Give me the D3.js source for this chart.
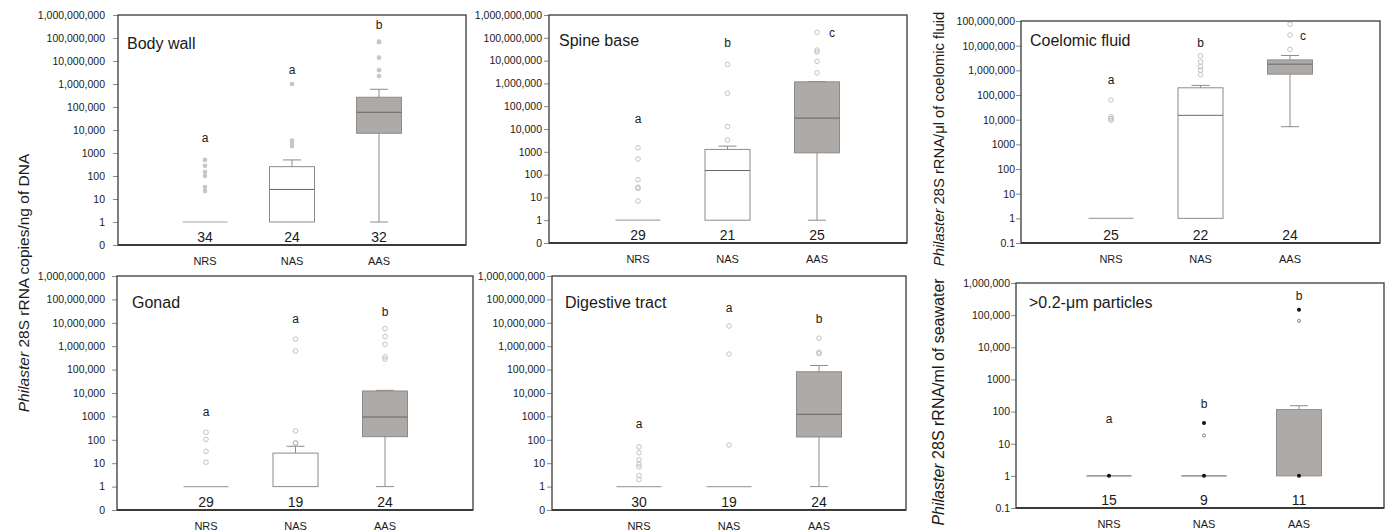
<!DOCTYPE html>
<html>
<head>
<meta charset="utf-8">
<script src="https://cdn.jsdelivr.net/npm/d3@7"></script>
<style>
body { margin: 0; background: #fff; }
text { font-family: "Liberation Sans", Arial, sans-serif; fill: #1a1a1a; }
</style>
</head>
<body>
<script>
var groups = ["NRS", "NAS", "AAS"];

// box stats per group: [low whisker, q1, median, q3, high whisker]
var bodyWallStats = [[1, 1, 1, 1, 1], [1, 1, 26, 255, 500], [1, 7200, 59000, 265000, 590000]];
var bodyWallOut = [[500, 280, 150, 100, 33, 22], [1e6, 3500, 3000, 2200, 2000], [7e7, 6.5e7, 1.4e7, 4e6, 2.2e6]];
var bodyWallN = [34, 24, 32];
var bodyWallLetters = ["a", "a", "b"];
var bodyWallLetterAt = [4500, 4e6, 3.7e8];

var spineStats = [[1, 1, 1, 1, 1], [1, 1, 151, 1270, 1770], [1, 900, 30000, 1.17e6, 1.2e6]];
var spineOut = [[1500, 480, 60, 28, 25, 7], [6.8e6, 3.7e5, 12900, 3240], [1.74e8, 2.9e7, 2.4e7, 9.3e6, 2.9e6]];
var spineN = [29, 21, 25];
var spineLetters = ["a", "b", "c"];
var spineLetterAt = [29000, 6.3e7, 1.74e8];

var coelomicStats = [[1, 1, 1, 1, 1], [1, 1, 15000, 1.96e5, 2.45e5], [5200, 7e5, 1.78e6, 2.65e6, 4e6]];
var coelomicOut = [[62000, 13000, 11000, 9500], [3.9e6, 2.2e6, 1.4e6, 1.02e6, 6.6e5], [7.4e7, 2.7e7, 7e6]];
var coelomicN = [25, 22, 24];
var coelomicLetters = ["a", "b", "c"];
var coelomicLetterAt = [4.3e5, 1.3e7, 2.4e7];

var gonadStats = [[1, 1, 1, 1, 1], [1, 1, 1, 27, 53], [1, 136, 940, 12200, 13000]];
var gonadOut = [[210, 105, 32, 11], [2e6, 6.2e5, 240, 75, 70], [5.6e6, 2.6e6, 1.2e6, 3.5e5, 2.8e5]];
var gonadN = [29, 19, 24];
var gonadLetters = ["a", "a", "b"];
var gonadLetterAt = [1500, 1.55e7, 3e7];

var digestiveStats = [[1, 1, 1, 1, 1], [1, 1, 1, 1, 1], [1, 132, 1230, 81000, 1.5e5]];
var digestiveOut = [[50, 28, 14, 9, 7, 3, 2], [7.3e6, 4.6e5, 60], [2.2e6, 5.6e5, 4.8e5]];
var digestiveN = [30, 19, 24];
var digestiveLetters = ["a", "a", "b"];
var digestiveLetterAt = [500, 4.4e7, 1.5e7];

var particleStats = [[1, 1, 1, 1, 1], [1, 1, 1, 1, 1], [1, 1, 1, 115, 152]];
var particleOut = [[], [18], [66000]];
var particleExtreme = [[], [44], [1.48e5]];
var particleN = [15, 9, 11];
var particleLetters = ["a", "b", "b"];
var particleLetterAt = [59, 172, 4e5];

var tickValues9 = [0.1, 1, 10, 100, 1000, 1e4, 1e5, 1e6, 1e7, 1e8, 1e9];
var tickLabels9 = ["0", "1", "10", "100", "1000", "10,000", "100,000", "1,000,000", "10,000,000", "100,000,000", "1,000,000,000"];
var tickValues8 = [0.1, 1, 10, 100, 1000, 1e4, 1e5, 1e6, 1e7, 1e8];
var tickLabels8 = ["0.1", "1", "10", "100", "1000", "10,000", "100,000", "1,000,000", "10,000,000", "100,000,000"];
var tickValues6 = [0.1, 1, 10, 100, 1000, 1e4, 1e5, 1e6];
var tickLabels6 = ["0.1", "1", "10", "100", "1000", "10,000", "100,000", "1,000,000"];

var panels = [
  {title: "Body wall", stats: bodyWallStats, out: bodyWallOut, n: bodyWallN, letters: bodyWallLetters, letterAt: bodyWallLetterAt,
   ticks: tickValues9, labels: tickLabels9, filledOut: true,
   x0: 118, x1: 466, y0: 15, y1: 245, pad: 8, xr: [205, 379], tx: 9, ty: 34, letterDx: [0, 0, 0]},
  {title: "Spine base", stats: spineStats, out: spineOut, n: spineN, letters: spineLetters, letterAt: spineLetterAt,
   ticks: tickValues9, labels: tickLabels9,
   x0: 549, x1: 907, y0: 15, y1: 243, pad: 2, xr: [638, 817], tx: 10, ty: 31, letterDx: [0, 0, 15]},
  {title: "Coelomic fluid", stats: coelomicStats, out: coelomicOut, n: coelomicN, letters: coelomicLetters, letterAt: coelomicLetterAt,
   ticks: tickValues8, labels: tickLabels8,
   x0: 1021, x1: 1380, y0: 21, y1: 243, pad: 1, xr: [1111, 1290], tx: 9, ty: 25, letterDx: [0, 0, 13]},
  {title: "Gonad", stats: gonadStats, out: gonadOut, n: gonadN, letters: gonadLetters, letterAt: gonadLetterAt,
   ticks: tickValues9, labels: tickLabels9,
   x0: 117, x1: 473, y0: 276, y1: 510, pad: 7, xr: [206, 385], tx: 15, ty: 32, letterDx: [0, 0, 0]},
  {title: "Digestive tract", stats: digestiveStats, out: digestiveOut, n: digestiveN, letters: digestiveLetters, letterAt: digestiveLetterAt,
   ticks: tickValues9, labels: tickLabels9,
   x0: 552, x1: 906, y0: 276, y1: 510, pad: 2, xr: [639, 819], tx: 13, ty: 32, letterDx: [0, 0, 0]},
  {title: ">0.2-\u03bcm particles", stats: particleStats, out: particleOut, extreme: particleExtreme, n: particleN, letters: particleLetters, letterAt: particleLetterAt,
   ticks: tickValues6, labels: tickLabels6, medianDot: true,
   x0: 1016, x1: 1384, y0: 283, y1: 508, pad: 1, xr: [1109, 1299], tx: 13, ty: 25, letterDx: [0, 0, 0]}
];

var boxW = 45, capW = 18;

var svg = d3.select("body").append("svg")
  .attr("width", 1399)
  .attr("height", 530);

var drawPanel = function(p) {
  var y = d3.scaleLog()
    .domain([p.ticks[0], p.ticks[p.ticks.length - 1]])
    .range([p.y1, p.y0]);
  var x = d3.scalePoint()
    .domain(groups)
    .range(p.xr);

  var g = svg.append("g");

  var axis = d3.axisLeft(y)
    .tickValues(p.ticks)
    .tickFormat(function(d, i) { return p.labels[i]; })
    .tickSize(5)
    .tickPadding(p.pad);

  var ax = g.append("g")
    .attr("transform", "translate(" + p.x0 + ",0)")
    .call(axis);
  ax.select(".domain").remove();
  ax.selectAll(".tick line").attr("stroke", "#8a8a8a");
  ax.selectAll(".tick text")
    .attr("font-size", 10.5)
    .attr("font-family", "'Liberation Sans', Arial, sans-serif")
    .attr("fill", "#1a1a1a");

  var grp = g.selectAll(".grp")
    .data(groups)
    .enter()
    .append("g")
    .attr("class", "grp");

  grp.each(function(name, i) {
    var s = p.stats[i];
    var cx = x(name);
    var el = d3.select(this);
    var lineColor = "#8c8c8c";

    if (s[3] > s[1]) {
      // whiskers
      if (s[4] > s[3]) {
        el.append("line").attr("x1", cx).attr("x2", cx).attr("y1", y(s[3])).attr("y2", y(s[4])).attr("stroke", lineColor);
        el.append("line").attr("x1", cx - capW / 2).attr("x2", cx + capW / 2).attr("y1", y(s[4])).attr("y2", y(s[4])).attr("stroke", lineColor);
      }
      if (s[0] < s[1]) {
        el.append("line").attr("x1", cx).attr("x2", cx).attr("y1", y(s[1])).attr("y2", y(s[0])).attr("stroke", lineColor);
        el.append("line").attr("x1", cx - capW / 2).attr("x2", cx + capW / 2).attr("y1", y(s[0])).attr("y2", y(s[0])).attr("stroke", lineColor);
      }
      el.append("rect")
        .attr("x", cx - boxW / 2)
        .attr("y", y(s[3]))
        .attr("width", boxW)
        .attr("height", y(s[1]) - y(s[3]))
        .attr("fill", name == "AAS" ? "#aeaaa7" : "#fff")
        .attr("stroke", lineColor);
      if (s[2] > s[1]) {
        el.append("line").attr("x1", cx - boxW / 2).attr("x2", cx + boxW / 2).attr("y1", y(s[2])).attr("y2", y(s[2])).attr("stroke", "#666");
      }
    } else {
      el.append("line").attr("x1", cx - boxW / 2).attr("x2", cx + boxW / 2).attr("y1", y(s[2])).attr("y2", y(s[2])).attr("stroke", p.medianDot ? "#777" : "#aaa79c").attr("stroke-width", 1.2);
    }

    el.selectAll(".out")
      .data(p.out[i])
      .enter()
      .append("circle")
      .attr("class", "out")
      .attr("cx", cx)
      .attr("cy", function(d) { return y(d); })
      .attr("r", p.medianDot ? 1.5 : 2.3)
      .attr("fill", p.filledOut ? "#c6c6c6" : "none")
      .attr("stroke", p.filledOut ? "none" : (p.medianDot ? "#666" : "#b4b4b4"))
      .attr("stroke-width", 0.8);

    if (p.extreme) {
      el.selectAll(".ext")
        .data(p.extreme[i])
        .enter()
        .append("circle")
        .attr("class", "ext")
        .attr("cx", cx)
        .attr("cy", function(d) { return y(d); })
        .attr("r", 2)
        .attr("fill", "#111");
    }
    if (p.medianDot) {
      el.append("circle").attr("cx", cx).attr("cy", y(s[2])).attr("r", 2).attr("fill", "#111");
    }

    el.append("text")
      .attr("x", cx + p.letterDx[i])
      .attr("y", y(p.letterAt[i]))
      .attr("dy", "0.35em")
      .attr("text-anchor", "middle")
      .attr("font-size", 12)
      .text(p.letters[i]);

    el.append("text")
      .attr("x", cx)
      .attr("y", p.y1 - 3)
      .attr("text-anchor", "middle")
      .attr("font-size", 14)
      .text(p.n[i]);

    el.append("text")
      .attr("x", cx)
      .attr("y", p.y1 + 19.5)
      .attr("text-anchor", "middle")
      .attr("font-size", 11)
      .text(name);
  });

  // frame
  g.append("rect")
    .attr("x", p.x0)
    .attr("y", p.y0)
    .attr("width", p.x1 - p.x0)
    .attr("height", p.y1 - p.y0)
    .attr("fill", "none")
    .attr("stroke", "#3a3a3a")
    .attr("stroke-width", 1.3);
  g.append("line")
    .attr("x1", p.x0).attr("x2", p.x1)
    .attr("y1", p.y1).attr("y2", p.y1)
    .attr("stroke", "#3a3a3a")
    .attr("stroke-width", 2);

  g.append("text")
    .attr("x", p.x0 + p.tx)
    .attr("y", p.y0 + p.ty)
    .attr("font-size", 16)
    .text(p.title);
};

panels.forEach(drawPanel);

var yTitle = function(x, y, size, rest) {
  var t = svg.append("text")
    .attr("transform", "translate(" + x + "," + y + ") rotate(-90)")
    .attr("text-anchor", "middle")
    .attr("font-size", size);
  t.append("tspan").attr("font-style", "italic").text("Philaster");
  t.append("tspan").text(" 28S " + rest);
};

yTitle(29, 283, 15.5, "rRNA copies/ng of DNA");
yTitle(944, 139, 14.8, "rRNA/\u03bcl of coelomic fluid");
yTitle(944, 402, 16, "rRNA/ml of seawater");
</script>
</body>
</html>
